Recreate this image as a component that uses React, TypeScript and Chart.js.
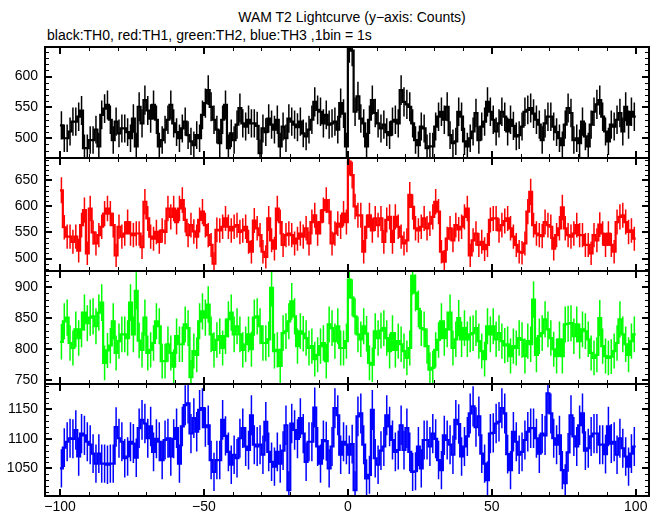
import React, { useEffect, useRef } from 'react';
import { Chart, registerables } from 'chart.js';
Chart.register(...registerables);

// ---- data (counts per 1 s bin, bins start at -100 s) ----
const binStart = -100;
const binWidth = 1;

const th0Counts = [
  521, 500, 500, 511, 527, 527, 535, 545, 484, 484, 497, 497, 514, 487, 538, 548, 554, 530, 497, 527,
  508, 516, 516, 510, 500, 532, 487, 551, 524, 562, 545, 532, 554, 530, 487, 497, 514, 530, 554, 524,
  510, 500, 516, 527, 505, 495, 489, 505, 500, 538, 557, 578, 551, 530, 514, 492, 530, 554, 484, 508,
  497, 522, 549, 524, 519, 530, 524,
  524, 520, 476, 516, 510, 532, 522, 514, 530, 487, 519, 500, 532, 527, 522, 518, 527, 508, 503, 514,
  530, 559, 546, 543, 524, 538, 522, 524, 527, 514, 557, 540, 487, 648, 642, 543, 568, 532, 524, 487,
  530, 562, 541, 524, 516, 522, 510, 505, 527, 530, 524, 578, 559, 555, 551, 524, 497, 489, 519, 516,
  484, 487, 487, 519, 535, 543, 530,
  551, 505, 492, 495, 543, 535, 495, 487, 500, 511, 541, 497, 519, 527, 559, 543, 530, 511, 524, 543,
  535, 511, 530, 520, 503, 505, 519, 543, 546, 549, 540, 530, 522, 497, 524, 535, 535, 519, 510, 500,
  489, 522, 549, 541, 497, 500, 492, 527, 503, 487, 522, 543, 555, 562, 535, 511, 495, 522, 519, 530,
  541, 511, 551, 522, 543, 535,
];

const th1Counts = [
  631, 560, 542, 542, 532, 542, 515, 564, 593, 510, 596, 550, 529, 545, 561, 586, 596, 586, 564, 506,
  561, 542, 548, 570, 548, 545, 548, 548, 522, 609, 577, 542, 538, 551, 532, 554, 551, 596, 580, 596,
  570, 596, 612, 574, 545, 564, 552, 542, 574, 590, 564, 545, 526, 490, 555, 554, 561, 577, 561, 554,
  561, 564, 551, 554, 561, 532,
  513, 573, 558, 545, 513, 503, 577, 535, 519, 596, 570, 526, 545, 548, 545, 529, 538, 548, 542, 558,
  529, 570, 583, 548, 570, 593, 612, 590, 529, 548, 567, 561, 586, 570, 686, 660, 600,
  583, 583, 513, 561, 583, 554, 577, 564, 577, 532, 574, 580, 532, 580, 561, 542, 529, 535, 622, 599,
  558, 554, 561, 577, 558, 567, 580, 609, 590, 513, 494,
  538, 558, 535, 564, 556, 561, 580, 596, 506, 535, 548, 526, 532, 518, 526, 574, 577, 577, 554, 564,
  572, 577, 558, 542, 526, 513, 511, 529, 590, 628, 564, 548, 545, 543, 570, 564, 561, 519, 545, 558,
  598, 558, 545, 542, 548, 564, 545, 545, 526, 526, 510, 545, 535, 565, 548, 526, 548, 526, 513, 570,
  580, 583, 570, 551, 554, 538,
];

const th2Counts = [
  812, 845, 851, 810, 802, 832, 818, 832, 859, 842, 851, 853, 837, 859, 875, 778, 798, 806, 845, 794,
  813, 824, 824, 818, 875, 824, 894, 814, 799, 851, 794, 799, 810, 845, 837, 781, 781, 808, 794, 772,
  821, 808, 808, 840, 834, 755, 797, 791, 845, 861, 851, 872, 824, 799, 815, 821, 802, 821, 848, 859,
  824, 837, 824, 799, 808, 824,
  800, 851, 853, 837, 810, 810, 816, 899, 797, 799, 773, 826, 829, 845, 877, 853, 805, 829, 825, 818,
  802, 805, 784, 791, 805, 810, 781, 840, 834, 813, 837, 802, 802, 813, 912, 883, 853, 824, 816, 837,
  825, 778, 775, 829, 818, 830, 834, 818, 797, 826, 799, 813, 808, 797, 786, 802, 918, 891, 865, 834,
  832, 805, 767, 770, 799, 815, 845, 818,
  832, 859, 802, 816, 850, 816, 834, 816, 824, 826, 834, 813, 797, 784, 837, 824, 837, 816, 826, 813,
  806, 808, 789, 805, 802, 818, 815, 789, 813, 808, 880, 791, 821, 826, 848, 832, 818, 800, 789, 816,
  789, 840, 841, 842, 821, 840, 813, 832, 829, 816, 794, 786, 791, 850, 805, 789, 786, 788, 797, 810,
  848, 824, 808, 791, 813, 824,
];

const th3Counts = [
  1050, 1085, 1095, 1101, 1100, 1115, 1070, 1109, 1106, 1095, 1090, 1075, 1058, 1075, 1058, 1058, 1056, 1058, 1058, 1120,
  1101, 1095, 1067, 1070, 1095, 1092, 1068, 1118, 1132, 1126, 1101, 1121, 1078, 1100, 1095, 1064, 1098, 1101, 1070, 1100,
  1118, 1058, 1121, 1157, 1160, 1109, 1135, 1112, 1149, 1152, 1120, 1123, 1064, 1044, 1064, 1064, 1132, 1105, 1078, 1056,
  1073, 1067, 1101, 1118, 1087, 1081,
  1140, 1090, 1087, 1090, 1073, 1129, 1078, 1061, 1053, 1078, 1058, 1080, 1123, 1013, 1126, 1115, 1100, 1135, 1109, 1061,
  1095, 1095, 1153, 1087, 1058, 1098, 1096, 1050, 1087, 1152, 1140, 1073, 1095, 1090, 1073, 1091, 1013, 1138, 1143, 1090,
  1033, 1039, 1149, 1067, 1056, 1080, 1087, 1140, 1121, 1098, 1078, 1081, 1123, 1081, 1118, 1078, 1044, 1045, 1087, 1050,
  1098, 1098, 1087, 1109, 1100, 1064, 1047, 1106,
  1098, 1090, 1073, 1132, 1125, 1070, 1087, 1104, 1143, 1155, 1120, 1138, 1075, 1058, 1030, 1109, 1110, 1126, 1129, 1152,
  1143, 1074, 1047, 1112, 1095, 1073, 1078, 1098, 1112, 1118, 1118, 1101, 1075, 1109, 1106, 1177, 1143, 1101, 1090, 1106,
  1047, 1025, 1077, 1140, 1104, 1087, 1123, 1143, 1080, 1084, 1104, 1109, 1109, 1090, 1090, 1074, 1121, 1092, 1095, 1073,
  1101, 1084, 1070, 1053, 1075, 1087,
];

const xTickValues = [-100, -50, 0, 50, 100];
const th0TickValues = [500, 550, 600];
const th1TickValues = [500, 550, 600, 650];
const th2TickValues = [750, 800, 850, 900];
const th3TickValues = [1050, 1100, 1150];

const titleText = 'WAM T2 Lightcurve (y\u2212axis: Counts)';
const subtitleText = 'black:TH0, red:TH1, green:TH2, blue:TH3 ,1bin = 1s';

// ---- layout / style ----
const FONT = '"Liberation Sans", Arial, Helvetica, sans-serif';
const X_MIN = -105.2;
const X_MAX = 104.6;
const PLOT_LEFT = 45;
const PLOT_RIGHT = 649;
const W = 662;
const H = 515;

type PanelDef = {
  counts: number[];
  color: string;
  ticks: number[];
  yMin: number;
  yMax: number;
  top: number;
  bottom: number;
  showX: boolean;
};

const panels: PanelDef[] = [
  { counts: th0Counts, color: '#000000', ticks: th0TickValues, yMin: 468, yMax: 648, top: 47, bottom: 158, showX: false },
  { counts: th1Counts, color: '#ff0000', ticks: th1TickValues, yMin: 476, yMax: 693, top: 158, bottom: 271, showX: false },
  { counts: th2Counts, color: '#00ff00', ticks: th2TickValues, yMin: 744, yMax: 926, top: 271, bottom: 384, showX: false },
  { counts: th3Counts, color: '#0000ff', ticks: th3TickValues, yMin: 1003, yMax: 1193, top: 384, bottom: 496, showX: true },
];

const fmt = (v: number) => (v < 0 ? '\u2212' + Math.abs(v) : String(v));

const frameTicksPlugin = {
  id: 'frameTicks',
  afterDatasetsDraw(chart: any, _args: any, opts: any) {
    const { ctx, chartArea: a, scales } = chart;
    const xs = scales.x;
    const ys = scales.y;
    const majorX: number[] = opts.majorX || [];
    const majorY: number[] = opts.majorY || [];
    ctx.save();
    ctx.strokeStyle = '#000';
    const MAJ = 7;
    const MIN = 4;
    for (let v = -100; v <= 100; v += 10) {
      const px = Math.round(xs.getPixelForValue(v));
      const major = majorX.includes(v);
      const len = major ? MAJ : MIN;
      ctx.lineWidth = major ? 2 : 1;
      const off = major ? 0 : 0.5;
      ctx.beginPath();
      ctx.moveTo(px + off, a.top);
      ctx.lineTo(px + off, a.top + len);
      ctx.moveTo(px + off, a.bottom);
      ctx.lineTo(px + off, a.bottom - len);
      ctx.stroke();
    }
    const start = Math.ceil(ys.min / 10) * 10;
    for (let v = start; v <= ys.max; v += 10) {
      const py = Math.round(ys.getPixelForValue(v));
      const major = majorY.includes(v);
      const len = major ? MAJ : MIN;
      ctx.lineWidth = major ? 2 : 1;
      const off = major ? 0 : 0.5;
      ctx.beginPath();
      ctx.moveTo(a.left, py + off);
      ctx.lineTo(a.left + len, py + off);
      ctx.moveTo(a.right, py + off);
      ctx.lineTo(a.right - len, py + off);
      ctx.stroke();
    }
    ctx.lineWidth = 2;
    ctx.strokeRect(a.left, a.top, a.right - a.left, a.bottom - a.top);
    ctx.restore();
  },
};

function Panel({ def }: { def: PanelDef }) {
  const ref = useRef<HTMLCanvasElement | null>(null);
  const canvasTop = def.top - 10;
  const canvasHeight = def.showX ? H - canvasTop : def.bottom - def.top + 20;
  const xAxisHeight = def.showX ? canvasHeight - 10 - (def.bottom - def.top) : 0;

  useEffect(() => {
    if (!ref.current) return;
    const n = def.counts.length;
    const stepData = def.counts.map((c, i) => ({ x: binStart + i * binWidth, y: c }));
    stepData.push({ x: binStart + n * binWidth, y: def.counts[n - 1] });
    const errData: { x: number; y: number | null }[] = [];
    def.counts.forEach((c, i) => {
      const xc = binStart + (i + 0.5) * binWidth;
      const e = Math.sqrt(c);
      errData.push({ x: xc, y: c - e }, { x: xc, y: c + e }, { x: xc, y: null });
    });

    const chart = new Chart(ref.current, {
      type: 'line',
      data: {
        datasets: [
          {
            data: errData as any,
            borderColor: def.color,
            borderWidth: 1.5,
            pointRadius: 0,
            spanGaps: false,
            fill: false,
          },
          {
            data: stepData as any,
            borderColor: def.color,
            borderWidth: 2.2,
            pointRadius: 0,
            stepped: true,
            fill: false,
          },
        ],
      },
      options: {
        animation: false,
        responsive: false,
        events: [],
        layout: { padding: { top: 10, bottom: def.showX ? 0 : 10, left: 0, right: W - PLOT_RIGHT } },
        plugins: {
          legend: { display: false },
          tooltip: { enabled: false },
          title: { display: false },
          frameTicks: { majorX: xTickValues, majorY: def.ticks },
        } as any,
        scales: {
          x: {
            type: 'linear',
            min: X_MIN,
            max: X_MAX,
            display: def.showX,
            afterBuildTicks: (s: any) => {
              s.ticks = xTickValues.map((v) => ({ value: v }));
            },
            afterFit: (s: any) => {
              s.height = xAxisHeight;
              s.paddingLeft = 0;
              s.paddingRight = 0;
            },
            ticks: {
              callback: (v: any) => fmt(Number(v)),
              font: { family: FONT, size: 14 },
              color: '#000',
              padding: 3,
              maxRotation: 0,
              autoSkip: false,
            },
            grid: { display: false, drawTicks: false },
            border: { display: false },
          },
          y: {
            type: 'linear',
            min: def.yMin,
            max: def.yMax,
            afterBuildTicks: (s: any) => {
              s.ticks = def.ticks.map((v) => ({ value: v }));
            },
            afterFit: (s: any) => {
              s.width = PLOT_LEFT;
              s.paddingTop = 0;
              s.paddingBottom = 0;
            },
            ticks: {
              callback: (v: any) => fmt(Number(v)),
              font: { family: FONT, size: 14 },
              color: '#000',
              padding: 7,
              autoSkip: false,
            },
            grid: { display: false, drawTicks: false },
            border: { display: false },
          },
        },
      } as any,
      plugins: [frameTicksPlugin],
    });
    return () => chart.destroy();
  }, []);

  return (
    <canvas
      ref={ref}
      width={W}
      height={canvasHeight}
      style={{ position: 'absolute', left: 0, top: canvasTop, width: W, height: canvasHeight }}
    />
  );
}

export default function App() {
  return (
    <div style={{ position: 'absolute', left: 0, top: 0, width: W, height: H, background: '#fff', overflow: 'hidden' }}>
      <div
        style={{
          position: 'absolute',
          left: 152,
          width: 400,
          top: 9,
          textAlign: 'center',
          fontFamily: FONT,
          fontSize: 14,
          lineHeight: '16px',
          color: '#000',
          whiteSpace: 'nowrap',
        }}
      >
        {titleText}
      </div>
      <div
        style={{
          position: 'absolute',
          left: 47,
          top: 27,
          fontFamily: FONT,
          fontSize: 14,
          lineHeight: '16px',
          color: '#000',
          whiteSpace: 'nowrap',
        }}
      >
        {subtitleText}
      </div>
      {panels.map((p, i) => (
        <Panel key={i} def={p} />
      ))}
    </div>
  );
}
